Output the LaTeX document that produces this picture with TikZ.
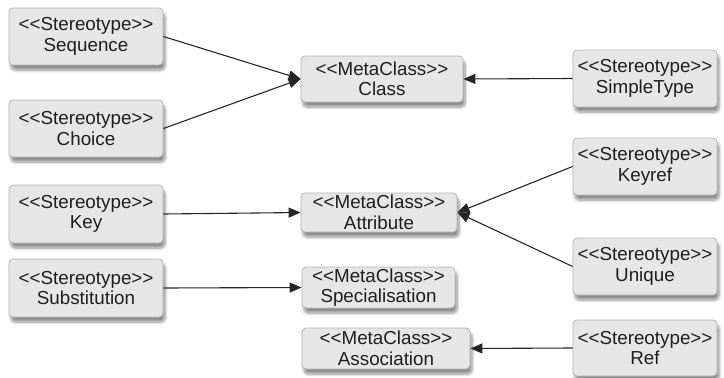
\documentclass[tikz,border=0pt]{standalone}
\usepackage{fontspec}
\setmainfont{Liberation Sans}[Ligatures=TeXOff]
\usetikzlibrary{arrows.meta,shadows.blur}
\definecolor{boxfill}{HTML}{E6E6E6}
\definecolor{boxline}{HTML}{B4B4B4}
\definecolor{txt}{HTML}{1E1E1E}
\newcommand{\st}{<{}<Stereotype>{}>}
\newcommand{\mc}{<{}<MetaClass>{}>}
\begin{document}
\begin{tikzpicture}[x=1pt,y=-1pt,
  umlbox/.style={draw=boxline,line width=0.8pt,fill=boxfill,rounded corners=4pt,
    align=center,inner sep=0pt,text=txt,font=\fontsize{18.8}{20.5}\selectfont,
    blur shadow={shadow xshift=2pt,shadow yshift=-5pt,shadow blur steps=6,shadow opacity=45,shadow blur radius=3pt}},
  conn/.style={draw=black!85,line width=1.1pt,-{Triangle[length=12pt,width=10pt]}}]
\useasboundingbox (0,0) rectangle (724,378);
\node[umlbox,minimum width=154pt,minimum height=57pt] (seq) at (86,36.5) {\st\\Sequence};
\node[umlbox,minimum width=154pt,minimum height=57pt] (cho) at (86,128.5) {\st\\Choice};
\node[umlbox,minimum width=154pt,minimum height=58pt] (key) at (86,214) {\st\\Key};
\node[umlbox,minimum width=154pt,minimum height=58pt] (sub) at (86,288) {\st\\Substitution};
\node[umlbox,minimum width=162pt,minimum height=46pt] (cls) at (382,79) {\mc\\Class};
\node[umlbox,minimum width=156pt,minimum height=39pt] (att) at (379,212.5) {\mc\\Attribute};
\node[umlbox,minimum width=153pt,minimum height=41pt] (spe) at (378.5,287.5) {\mc\\Specialisation};
\node[umlbox,minimum width=168pt,minimum height=41pt] (ass) at (386,348.5) {\mc\\Association};
\node[umlbox,minimum width=144pt,minimum height=57pt] (sim) at (645,78.5) {\st\\SimpleType};
\node[umlbox,minimum width=144pt,minimum height=57pt] (kre) at (645,166.5) {\st\\Keyref};
\node[umlbox,minimum width=144pt,minimum height=57pt] (uni) at (645,266.5) {\st\\Unique};
\node[umlbox,minimum width=144pt,minimum height=56pt] (ref) at (645,348) {\st\\Ref};
\draw[conn] (seq.east) -- (cls.west);
\draw[conn] (cho.east) -- (cls.west);
\draw[conn] (sim.west) -- (cls.east);
\draw[conn] (key.east) -- (att.west);
\draw[conn] (kre.west) -- (att.east);
\draw[conn] (uni.west) -- (att.east);
\draw[conn] (sub.east) -- (spe.west);
\draw[conn] (ref.west) -- (ass.east);
\end{tikzpicture}
\end{document}
